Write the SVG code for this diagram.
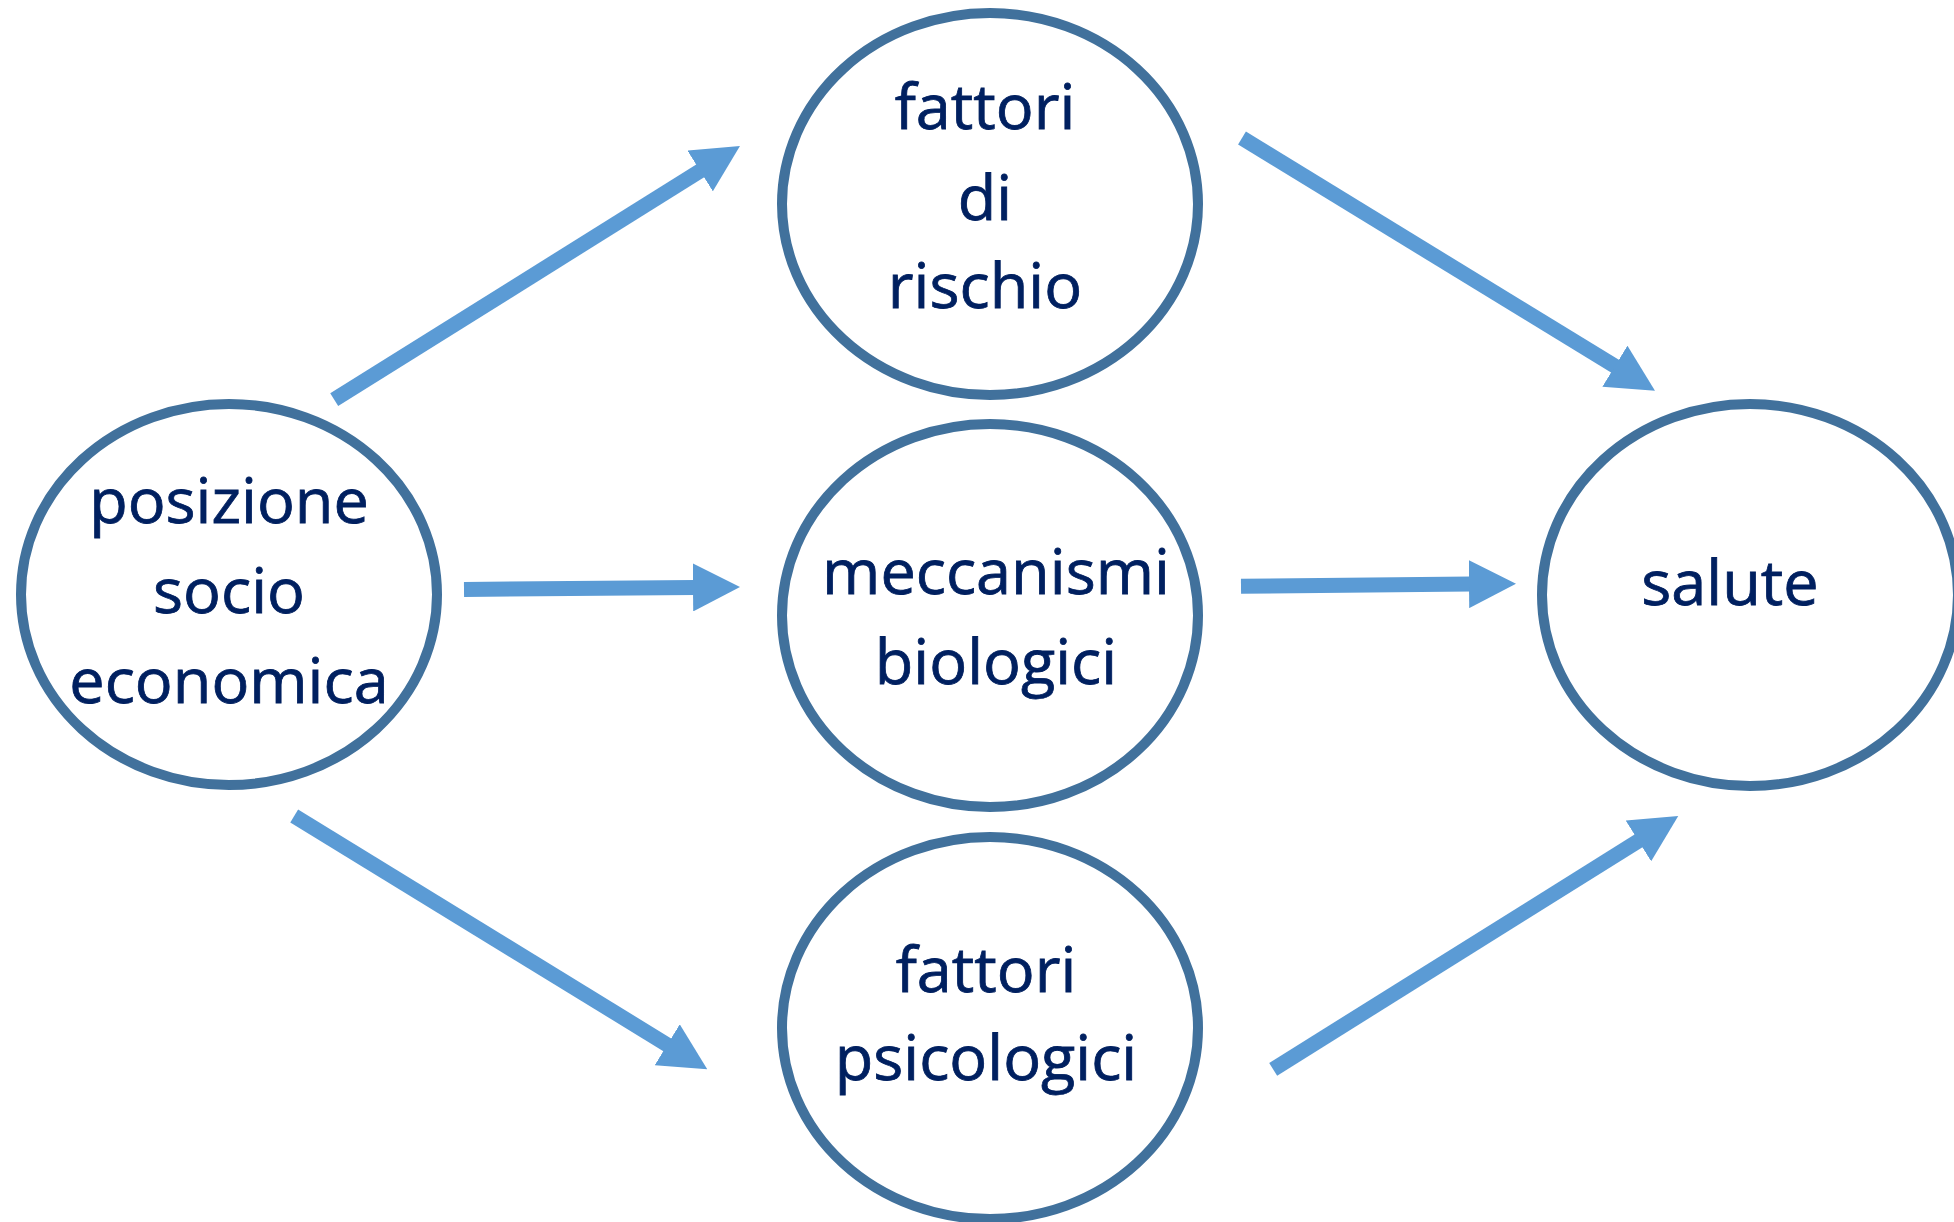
<svg xmlns="http://www.w3.org/2000/svg" width="1954" height="1222" viewBox="0 0 1954 1222">
<style>
.node{fill:#FFFFFF;stroke:#41719C;stroke-width:10}
.lbl{font-family:"Open Sans","Noto Sans",sans-serif;font-size:63px;fill:#002060;stroke:#002060;stroke-width:0.8;text-anchor:middle}
.conn{stroke:#5B9BD5;stroke-width:15;fill:none;stroke-linecap:butt;marker-end:url(#head)}
</style>
<defs>
<marker id="head" markerUnits="userSpaceOnUse" markerWidth="47" markerHeight="48" viewBox="0 0 47 48" refX="2" refY="24" orient="auto">
<path d="M0,0 L47,24 L0,48 Z" fill="#5B9BD5"/>
</marker>
</defs>
<rect x="0" y="0" width="1954" height="1222" fill="#FFFFFF"/>
<g id="connectors">
<line class="conn" x1="334.2" y1="399.7" x2="701.8" y2="169.9"/>
<line class="conn" x1="1242" y1="138" x2="1616.6" y2="367.2"/>
<line class="conn" x1="464" y1="589.5" x2="695" y2="587.4"/>
<line class="conn" x1="1241" y1="586.3" x2="1471" y2="584.1"/>
<line class="conn" x1="294.2" y1="816" x2="668.9" y2="1045.8"/>
<line class="conn" x1="1273.2" y1="1069.3" x2="1640.1" y2="839.9"/>
</g>
<g id="node-posizione">
<ellipse class="node" cx="229" cy="594.5" rx="208" ry="190.5"/>
<text class="lbl" x="229" y="523">posizione</text>
<text class="lbl" x="229" y="613">socio</text>
<text class="lbl" x="229" y="703">economica</text>
</g>
<g id="node-fattori-rischio">
<ellipse class="node" cx="990" cy="204" rx="208" ry="191"/>
<text class="lbl" x="985" y="129">fattori</text>
<text class="lbl" x="985" y="220">di</text>
<text class="lbl" x="985" y="308">rischio</text>
</g>
<g id="node-meccanismi">
<ellipse class="node" cx="990" cy="615.5" rx="208" ry="191.5"/>
<text class="lbl" x="996" y="594">meccanismi</text>
<text class="lbl" x="996" y="684">biologici</text>
</g>
<g id="node-fattori-psicologici">
<ellipse class="node" cx="990" cy="1028" rx="208" ry="191"/>
<text class="lbl" x="986" y="992">fattori</text>
<text class="lbl" x="986" y="1080">psicologici</text>
</g>
<g id="node-salute">
<ellipse class="node" cx="1750" cy="595" rx="208" ry="191"/>
<text class="lbl" x="1730" y="605">salute</text>
</g>
</svg>
